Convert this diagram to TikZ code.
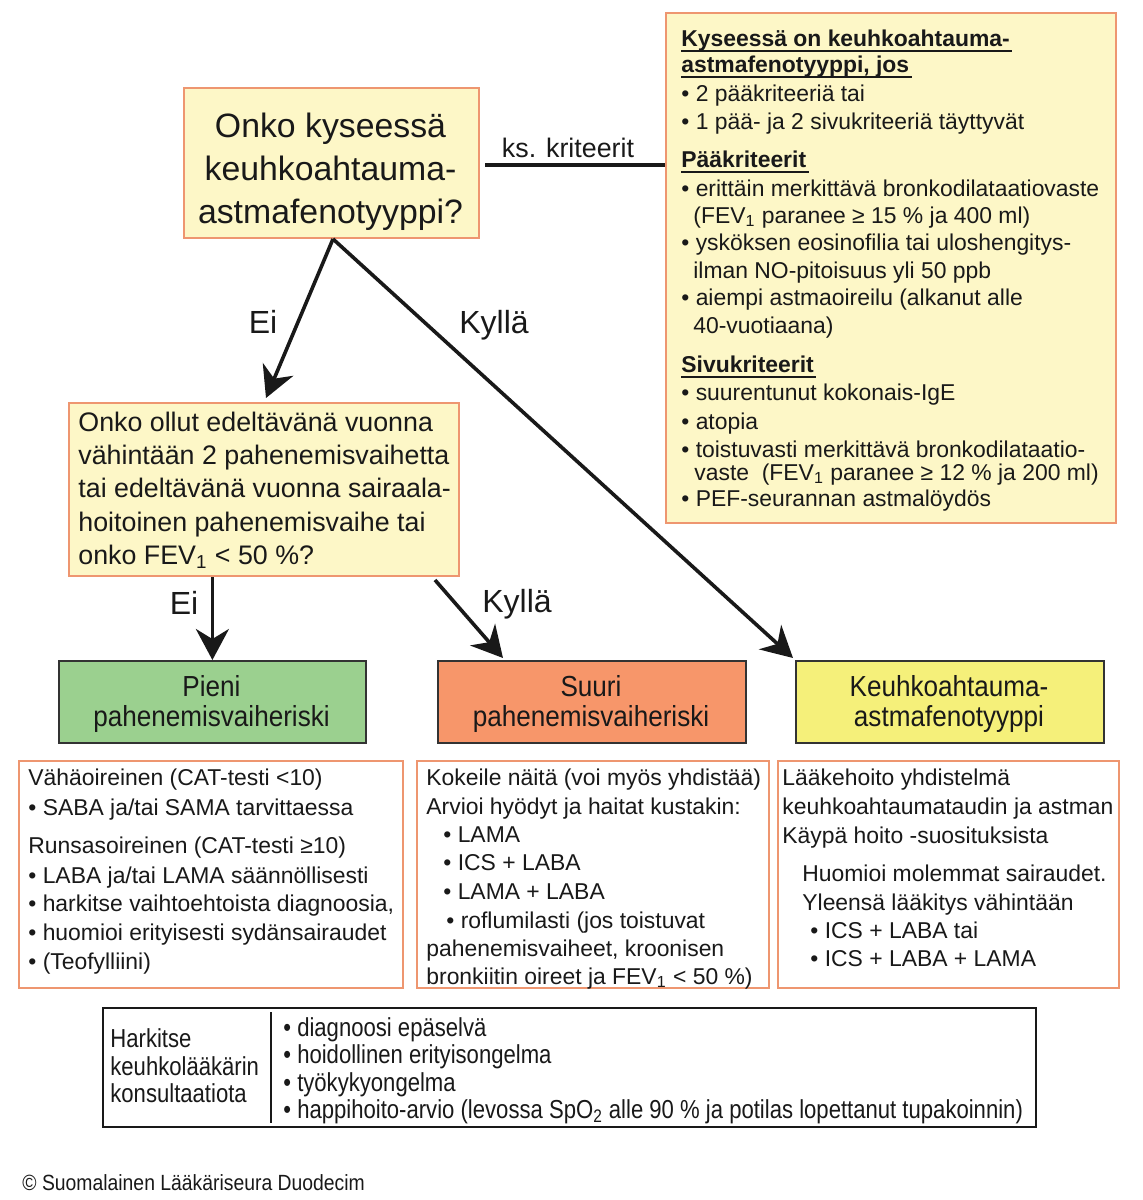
\documentclass[tikz,border=0pt]{standalone}
\usepackage{fontspec}
\setmainfont{Liberation Sans}
\usetikzlibrary{arrows.meta}
\definecolor{cream}{RGB}{253,247,199}
\definecolor{salmon}{RGB}{238,150,112}
\definecolor{riskgreen}{RGB}{155,208,143}
\definecolor{riskorange}{RGB}{247,150,106}
\definecolor{riskyellow}{RGB}{245,240,122}
\definecolor{ink}{RGB}{25,25,25}
\newcommand{\fsz}[2]{\fontsize{#1}{#2}\selectfont}
\newcommand{\nar}[1]{\scalebox{0.9}[1]{#1}}
\newcommand{\narc}[1]{\scalebox{0.85}[1]{#1}}
\begin{document}
\begin{tikzpicture}[x=0.5pt,y=-0.5pt,
  crbox/.style={draw=salmon, line width=1pt, fill=cream, inner sep=0pt, anchor=north west},
  whbox/.style={draw=salmon, line width=1pt, fill=white, inner sep=0pt, anchor=north west},
  riskbox/.style={draw=black!80, line width=0.9pt, inner sep=0pt, anchor=north west},
  consbox/.style={draw=ink, line width=1pt, fill=white, inner sep=0pt, anchor=north west},
  body/.style={inner sep=0pt, anchor=west, text=ink, font=\fsz{11.45}{14}, text height=8.2pt, text depth=0pt},
  bodyb/.style={body, font=\bfseries\fsz{11.45}{14}},
  qone/.style={inner sep=0pt, anchor=center, text=ink, font=\fsz{16.9}{20}, text height=12.1pt, text depth=0pt},
  qtwo/.style={inner sep=0pt, anchor=west, text=ink, font=\fsz{13.4}{16}, text height=9.6pt, text depth=0pt},
  lbl/.style={inner sep=0pt, anchor=center, text=ink, font=\fsz{16}{19}, text height=11.5pt, text depth=0pt},
  kslbl/.style={inner sep=0pt, anchor=center, text=ink, font=\fsz{13.4}{16}, text height=9.6pt, text depth=0pt},
  risktxt/.style={inner sep=0pt, anchor=center, text=ink, font=\fsz{14.5}{17}, text height=10.4pt, text depth=0pt},
  constxt/.style={inner sep=0pt, anchor=west, text=ink, font=\fsz{13}{15}, text height=9.3pt, text depth=0pt},
  copytxt/.style={inner sep=0pt, anchor=west, text=ink, font=\fsz{11}{13}, text height=7.9pt, text depth=0pt},
  heavy/.style={draw=ink, line width=1.9pt},
  arr/.style={draw=ink, line width=1.8pt, -{Stealth[length=15.5pt, width=16.5pt, inset=5pt]}},
  ul/.style={draw=ink, line width=0.85pt}
]
\useasboundingbox (0,0) rectangle (1142,1200);

% ---------- boxes ----------
\node[crbox, minimum width=225pt, minimum height=255pt] (crit) at (665,12) {};
\node[crbox, minimum width=147.5pt, minimum height=75pt] (q1) at (183,87) {};
\node[crbox, minimum width=195pt, minimum height=86.5pt] (q2) at (68,402) {};
\node[riskbox, fill=riskgreen, minimum width=153.5pt, minimum height=41pt] (pieni) at (58,660) {};
\node[riskbox, fill=riskorange, minimum width=154pt, minimum height=41pt] (suuri) at (437,660) {};
\node[riskbox, fill=riskyellow, minimum width=154pt, minimum height=41pt] (keuhko) at (795,660) {};
\node[whbox, minimum width=192pt, minimum height=113.5pt] (boxa) at (18,760) {};
\node[whbox, minimum width=176pt, minimum height=113.5pt] (boxb) at (416,760) {};
\node[whbox, minimum width=170.5pt, minimum height=113.5pt] (boxc) at (777,760) {};
\node[consbox, minimum width=466.5pt, minimum height=59.5pt] (cons) at (102,1007) {};

% ---------- criteria box text ----------
\node[bodyb] (c1) at (681,38) {Kyseessä on keuhkoahtauma-};
\node[bodyb] (c2) at (681,64) {astmafenotyyppi, jos};
\node[body] (c3) at (681,93) {• 2 pääkriteeriä tai};
\node[body] (c4) at (681,121) {• 1 pää- ja 2 sivukriteeriä täyttyvät};
\node[bodyb] (c5) at (681,159) {Pääkriteerit};
\node[body] (c6) at (681,188) {• erittäin merkittävä bronkodilataatiovaste};
\node[body] (c7) at (693,215) {(FEV\textsubscript{1} paranee ≥ 15 \% ja 400 ml)};
\node[body] (c8) at (681,242) {• ysköksen eosinofilia tai uloshengitys-};
\node[body] (c9) at (693,270) {ilman NO-pitoisuus yli 50 ppb};
\node[body] (c10) at (681,297) {• aiempi astmaoireilu (alkanut alle};
\node[body] (c11) at (693,325) {40-vuotiaana)};
\node[bodyb] (c12) at (681,364) {Sivukriteerit};
\node[body] (c13) at (681,392) {• suurentunut kokonais-IgE};
\node[body] (c14) at (681,421) {• atopia};
\node[body] (c15) at (681,449) {• toistuvasti merkittävä bronkodilataatio-};
\node[body] (c16) at (694,472) {vaste\ \ (FEV\textsubscript{1} paranee ≥ 12 \% ja 200 ml)};
\node[body] (c17) at (681,498) {• PEF-seurannan astmalöydös};
\foreach \h in {c1,c2,c5,c12}
  \draw[ul] ([yshift=-2.4pt]\h.base west) -- ([yshift=-2.4pt,xshift=1pt]\h.base east);

% ---------- question 1 ----------
\node[qone] (q1a) at (330.5,125) {Onko kyseessä};
\node[qone] (q1b) at (330.5,168) {keuhkoahtauma-};
\node[qone] (q1c) at (330.5,211) {astmafenotyyppi?};

% ---------- ks. kriteerit ----------
\coordinate (ksy) at (0,165);
\draw[heavy, shorten <=2.5pt] (q1.east |- ksy) -- (crit.west |- ksy);
\node[kslbl] (ks) at (568,148) {ks. kriteerit};

% ---------- question 2 ----------
\node[qtwo] (q2a) at (78,421.5) {Onko ollut edeltävänä vuonna};
\node[qtwo] (q2b) at (78,455) {vähintään 2 pahenemisvaihetta};
\node[qtwo] (q2c) at (78,488) {tai edeltävänä vuonna sairaala-};
\node[qtwo] (q2d) at (78,522) {hoitoinen pahenemisvaihe tai};
\node[qtwo] (q2e) at (78,555) {onko FEV\textsubscript{1} < 50 \%?};

% ---------- arrows ----------
\draw[arr] ([xshift=0.75pt]q1.south) -- ([shift={(1pt,2pt)}]q2.north);
\draw[arr] ([xshift=0.75pt]q1.south) -- ([shift={(-1pt,1pt)}]keuhko.north west);
\draw[arr] (q2.south -| pieni.north) -- (pieni.north);
\draw[arr] ([xshift=183.5pt,yshift=-1.5pt]q2.south west) -- ([xshift=33pt,yshift=1pt]suuri.north west);
\node[lbl] (ei1) at (263,322) {Ei};
\node[lbl] (ky1) at (494,322) {Kyllä};
\node[lbl] (ei2) at (184,603) {Ei};
\node[lbl] (ky2) at (517,601) {Kyllä};

% ---------- risk boxes text ----------
\node[risktxt] (p1) at (211.5,686) {\nar{Pieni}};
\node[risktxt] (p2) at (211.5,716) {\nar{pahenemisvaiheriski}};
\node[risktxt] (s1) at (591,686) {\nar{Suuri}};
\node[risktxt] (s2) at (591,716) {\nar{pahenemisvaiheriski}};
\node[risktxt] (k1) at (949,686) {\nar{Keuhkoahtauma-}};
\node[risktxt] (k2) at (949,716) {\nar{astmafenotyyppi}};

% ---------- box A ----------
\node[body] (a1) at (28,777) {Vähäoireinen (CAT-testi <10)};
\node[body] (a2) at (28,807) {• SABA ja/tai SAMA tarvittaessa};
\node[body] (a3) at (28,845) {Runsasoireinen (CAT-testi ≥10)};
\node[body] (a4) at (28,875) {• LABA ja/tai LAMA säännöllisesti};
\node[body] (a5) at (28,903) {• harkitse vaihtoehtoista diagnoosia,};
\node[body] (a6) at (28,932) {• huomioi erityisesti sydänsairaudet};
\node[body] (a7) at (28,961) {• (Teofylliini)};

% ---------- box B ----------
\node[body] (b1) at (426,777) {Kokeile näitä (voi myös yhdistää)};
\node[body] (b2) at (426,806) {Arvioi hyödyt ja haitat kustakin:};
\node[body] (b3) at (443,834) {• LAMA};
\node[body] (b4) at (443,862) {• ICS + LABA};
\node[body] (b5) at (443,891) {• LAMA + LABA};
\node[body] (b6) at (446,920) {• roflumilasti (jos toistuvat};
\node[body] (b7) at (426,948) {pahenemisvaiheet, kroonisen};
\node[body] (b8) at (426,976) {bronkiitin oireet ja FEV\textsubscript{1} < 50 \%)};

% ---------- box C ----------
\node[body] (d1) at (782,777) {Lääkehoito yhdistelmä};
\node[body] (d2) at (782,806) {keuhkoahtaumataudin ja astman};
\node[body] (d3) at (782,835) {Käypä hoito -suosituksista};
\node[body] (d4) at (802,873) {Huomioi molemmat sairaudet.};
\node[body] (d5) at (802,902) {Yleensä lääkitys vähintään};
\node[body] (d6) at (810,930) {• ICS + LABA tai};
\node[body] (d7) at (810,958) {• ICS + LABA + LAMA};

% ---------- consultation box ----------
\draw[draw=ink, line width=0.9pt] ([shift={(84.5pt,-2.5pt)}]cons.north west) -- ([shift={(84.5pt,2.5pt)}]cons.south west);
\node[constxt] (e1) at (110,1038) {\narc{Harkitse}};
\node[constxt] (e2) at (110,1066) {\narc{keuhkolääkärin}};
\node[constxt] (e3) at (110,1093) {\narc{konsultaatiota}};
\node[constxt] (f1) at (283,1027) {\narc{• diagnoosi epäselvä}};
\node[constxt] (f2) at (283,1054) {\narc{• hoidollinen erityisongelma}};
\node[constxt] (f3) at (283,1082) {\narc{• työkykyongelma}};
\node[constxt] (f4) at (283,1109) {\narc{• happihoito-arvio (levossa SpO\textsubscript{2} alle 90 \% ja potilas lopettanut tupakoinnin)}};

% ---------- copyright ----------
\node[copytxt] (copy) at (22,1183) {\scalebox{0.88}[1]{© Suomalainen Lääkäriseura Duodecim}};
\end{tikzpicture}
\end{document}
